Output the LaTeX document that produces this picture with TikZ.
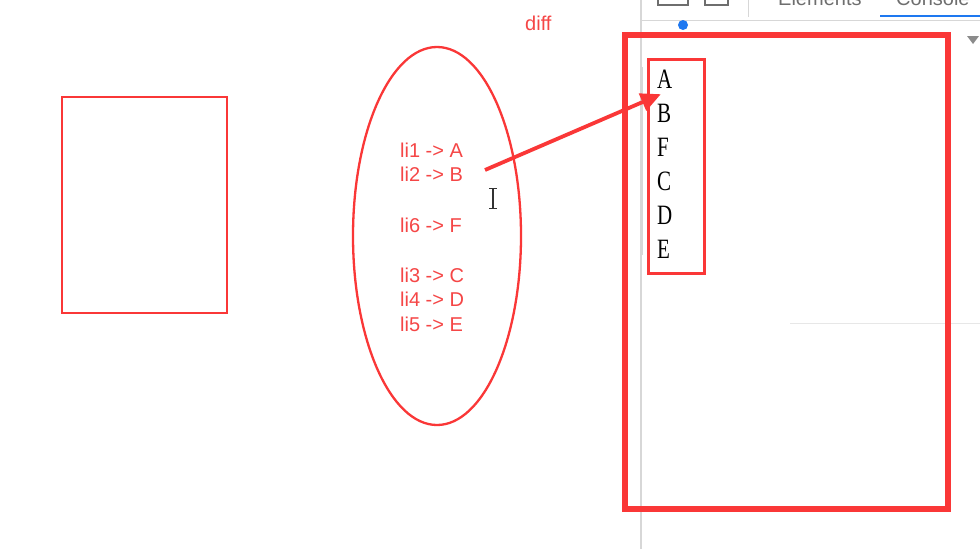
\documentclass[tikz,border=0pt]{standalone}
\usepackage{fontspec}
\setmainfont{Liberation Serif}
\newfontfamily\sansf{Liberation Sans}
\usetikzlibrary{arrows.meta}
\definecolor{myred}{RGB}{250,55,55}
\definecolor{txtred}{RGB}{245,70,70}
\definecolor{devgrey}{RGB}{215,215,215}
\definecolor{devtxt}{RGB}{110,110,110}
\definecolor{devblue}{RGB}{30,120,240}
\tikzset{
  redbox/.style={draw=myred, line width=2.3pt},
  mapline/.style={anchor=base west, inner sep=0pt, text=txtred, font=\sansf\fontsize{20}{20}\selectfont},
  letter/.style={anchor=base west, inner sep=0pt, font=\fontsize{28}{28}\selectfont},
  devlabel/.style={anchor=base west, inner sep=0pt, text=devtxt, font=\sansf\fontsize{20}{20}\selectfont},
  bigarrow/.style={draw=myred, line width=3.8pt, -{Triangle[length=20pt,width=18pt]}}
}
\begin{document}
\begin{tikzpicture}[x=1pt,y=-1pt]
\useasboundingbox (0,0) rectangle (980,549);
\clip (0,0) rectangle (980,549);
\fill[white] (0,0) rectangle (980,549);
% devtools remnants
\draw[devgrey, line width=1.2pt] (641,0) -- (641,549);
\draw[devgrey, line width=1pt] (641,20) -- (980,20);
\draw[devgrey, line width=1pt] (748,0) -- (748,17);
\draw[devgrey, line width=1pt] (642,67) -- (642,255);
\draw[devgrey!60, line width=0.8pt] (790,323) -- (980,323);
\node[devlabel] (elements) at (778,5) {Elements};
\node[devlabel] (console) at (896,5) {Console};
\draw[devblue, line width=2.5pt] (880,16) -- (980,16);
\fill[devblue] (683,25) circle (5);
\draw[devtxt, line width=1.5pt] (658,0) -- (658,5) -- (688,5) -- (688,0);
\draw[devtxt, line width=1.5pt] (705,0) -- (705,5) -- (728,5) -- (728,0);
\fill[devtxt!80] (967,36) -- (979,36) -- (973,44) -- cycle;
% left rectangle
\node[redbox, minimum width=165pt, minimum height=216pt, inner sep=0pt] (leftbox) at (144.5,205) {};
% ellipse
\draw[redbox] (437,236) ellipse [x radius=84, y radius=189];
% diff
\node[anchor=base west, inner sep=0pt, text=txtred, font=\sansf\fontsize{20}{20}\selectfont] (diff) at (525,30) {diff};
% mappings
\node[mapline] (m1) at (400,157) {li1 -> A};
\node[mapline] (m2) at (400,181) {li2 -> B};
\node[mapline] (m6) at (400,232) {li6 -> F};
\node[mapline] (m3) at (400,282) {li3 -> C};
\node[mapline] (m4) at (400,306) {li4 -> D};
\node[mapline] (m5) at (400,331) {li5 -> E};
% text cursor
\draw[black!80, line width=1.3pt] (493,189) -- (493,208);
\draw[black!80, line width=1.3pt] (489,188.5) -- (497,188.5);
\draw[black!80, line width=1.3pt] (489,208.5) -- (497,208.5);
% big rectangle
\draw[myred, line width=6pt] (625,35) rectangle (948,509);
% small rectangle
\node[draw=myred, line width=3pt, minimum width=56pt, minimum height=214pt, inner sep=0pt] (smallbox) at (676,166) {};
% letters
\node[letter] (la) at (657,88) {\scalebox{0.75}[1]{A}};
\node[letter] (lb) at (657,122) {\scalebox{0.75}[1]{B}};
\node[letter] (lf) at (657,156) {\scalebox{0.75}[1]{F}};
\node[letter] (lc) at (657,190) {\scalebox{0.75}[1]{C}};
\node[letter] (ld) at (657,224) {\scalebox{0.75}[1]{D}};
\node[letter] (le) at (657,258) {\scalebox{0.75}[1]{E}};
% arrow
\coordinate (arrstart) at (485,170);
\coordinate (arrend) at (659,95);
\draw[bigarrow, shorten >=-2pt] (arrstart) -- (arrend);
\end{tikzpicture}
\end{document}
